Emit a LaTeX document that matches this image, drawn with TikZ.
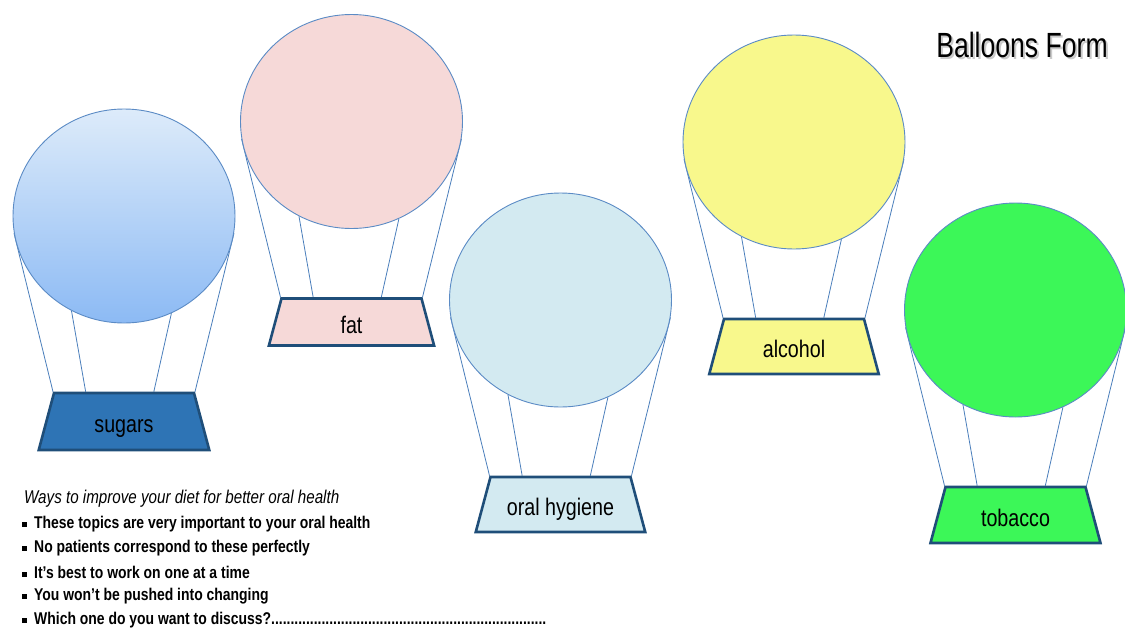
\documentclass[tikz,border=0pt]{standalone}
\usepackage{fontspec}
\setmainfont{Liberation Sans}
\newfontfamily\condfont[FakeStretch=0.82]{Liberation Sans}
\newfontfamily\titlefont[FakeStretch=0.76]{Liberation Sans}
\usetikzlibrary{shapes.geometric,calc}

\definecolor{ropecol}{HTML}{4A7EBB}
\definecolor{edgecol}{HTML}{5B8BC5}
\definecolor{basketedge}{HTML}{1F4E79}
\definecolor{sugarbasket}{HTML}{2E74B5}
\definecolor{sugartop}{HTML}{DDEBFA}
\definecolor{sugarbot}{HTML}{8CBAF4}
\definecolor{fatfill}{HTML}{F6D9D8}
\definecolor{hygfill}{HTML}{D3EAF1}
\definecolor{alcfill}{HTML}{F8F88C}
\definecolor{tobfill}{HTML}{3CF758}

\pgfdeclarelayer{bg}
\pgfsetlayers{bg,main}

\tikzset{
  balloon/.style={ellipse, draw=edgecol, line width=0.9pt,
    minimum width=222pt, minimum height=214pt, inner sep=0pt},
  basket/.style={trapezium, trapezium left angle=75, trapezium right angle=75,
    draw=basketedge, line width=2.6pt, inner sep=0pt, text=black,
    font=\condfont\fontsize{24}{24}\selectfont},
  ropeline/.style={draw=ropecol, line width=0.8pt},
  note/.style={anchor=west, inner sep=0pt,
    font=\condfont\bfseries\fontsize{17}{17}\selectfont},
}

% basket body: a box as wide as the top edge and as tall as the basket
\newcommand\basketbody[2]{\vbox to #2pt{\vss\hbox to 140pt{\hss\vphantom{hg}\raisebox{-5pt}[0pt][0pt]{#1}\hss}\vss}}

% #1 name, #2 x, #3 y of envelope centre, #4 envelope fill,
% #5 basket fill, #6 label, #7 basket height
\newcommand\hotair[7]{%
  \node[balloon,#4] (#1) at (#2,#3) {};
  \node[basket,fill=#5] (#1b) at (#2,#3+177+#7/2) {\basketbody{#6}{#7}};
  \begin{pgfonlayer}{bg}
    \draw[ropeline] (#1.189) -- (#1b.top left corner);
    \draw[ropeline] (#1.241) -- ($(#1b.top left corner)!0.23!(#1b.top right corner)$);
    \draw[ropeline] (#1.296) -- ($(#1b.top left corner)!0.71!(#1b.top right corner)$);
    \draw[ropeline] (#1.351) -- (#1b.top right corner);
  \end{pgfonlayer}
}

\newcommand\sqbullet{\rule[1.5pt]{5pt}{5pt}\hspace{7pt}}

\begin{document}
\begin{tikzpicture}[x=1pt,y=-1pt]
  \useasboundingbox (0,0) rectangle (1125,627);

  \hotair{sugars}{124}{216}{top color=sugartop,bottom color=sugarbot}{sugarbasket}{sugars}{57}
  \hotair{fat}{351.5}{121.5}{fill=fatfill}{fatfill}{fat}{47}
  \hotair{hygiene}{560.5}{300}{fill=hygfill}{hygfill}{oral hygiene}{55}
  \hotair{alcohol}{794}{142}{fill=alcfill}{alcfill}{alcohol}{55}
  \hotair{tobacco}{1015.5}{310}{fill=tobfill}{tobfill}{tobacco}{56}

  % heading with a soft drop shadow
  \node[font=\titlefont\fontsize{35}{35}\selectfont, text=black!35, opacity=0.6]
    (titleshadow) at (1024,47) {Balloons Form};
  \node[font=\titlefont\fontsize{35}{35}\selectfont] (title) at (1022,45) {Balloons Form};

  % notes below the baskets
  \node[anchor=west, inner sep=0pt,
    font=\condfont\itshape\fontsize{18.5}{18.5}\selectfont] (intro) at (24,499)
    {Ways to improve your diet for better oral health};
  \node[note] (n1) at (22,524) {\sqbullet These topics are very important to your oral health};
  \node[note] (n2) at (22,548) {\sqbullet No patients correspond to these perfectly};
  \node[note] (n3) at (22,572) {\sqbullet It’s best to work on one at a time};
  \node[note] (n4) at (22,596) {\sqbullet You won’t be pushed into changing};
  \node[note] (n5) at (22,620) {\makebox[524pt][l]{\sqbullet Which one do you want to discuss?\xleaders\hbox{.}\hfill}};
\end{tikzpicture}
\end{document}
